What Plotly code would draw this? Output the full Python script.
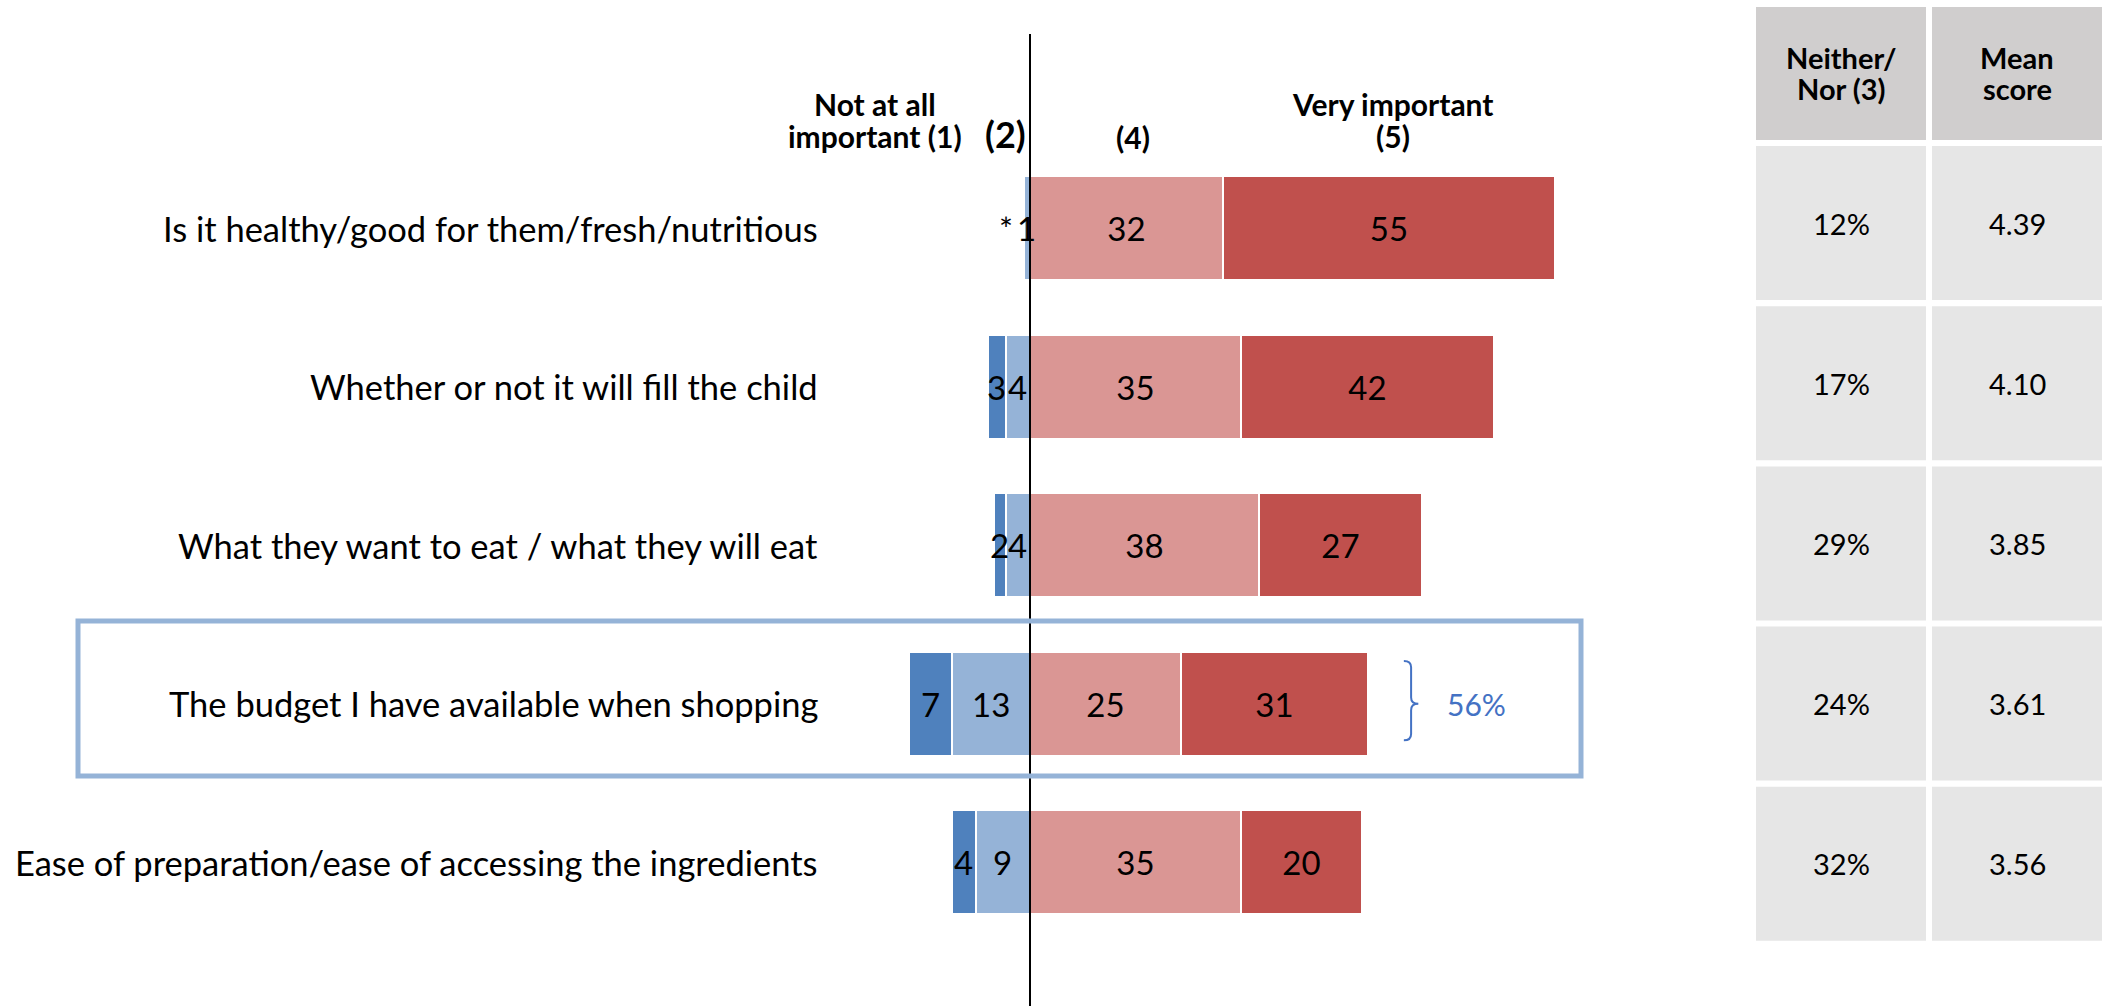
import plotly.graph_objects as go

# ---- data -------------------------------------------------------------
categories = [
    "Is it healthy/good for them/fresh/nutritious",
    "Whether or not it will fill the child",
    "What they want to eat / what they will eat",
    "The budget I have available when shopping",
    "Ease of preparation/ease of accessing the ingredients",
]
not_at_all = [0, 3, 2, 7, 4]          # Not at all important (1)
not_at_all_labels = ["*", "3", "2", "7", "4"]
somewhat_not = [1, 4, 4, 13, 9]       # (2)
somewhat = [32, 35, 38, 25, 35]       # (4)
very = [55, 42, 27, 31, 20]           # Very important (5)
neither_pct = [12, 17, 29, 24, 32]    # Neither/Nor (3)
mean_score = [4.39, 4.10, 3.85, 3.61, 3.56]
highlight_row = 3

# ---- style / geometry -------------------------------------------------
W, H = 2108, 1006
ZERO_PX, PX_PER_UNIT = 1030, 6.03
ROW0_PX, ROW_PITCH = 228, 158.6
FONT = "Lato, 'Noto Sans', sans-serif"
C_DARK_BLUE, C_LIGHT_BLUE = "#4F81BD", "#95B3D7"
C_LIGHT_RED, C_DARK_RED = "#DA9694", "#C0504D"
ACCENT = "#4472C4"
LABEL_SIZE = 33


def px(x):
    return x / W


def py(y):
    return 1 - y / H


rows = list(range(len(categories)))
bar_width = 104 / ROW_PITCH

fig = go.Figure()


def add_bar(values, color, text=None):
    fig.add_trace(go.Bar(
        y=rows, x=values, orientation="h", width=bar_width,
        marker=dict(color=color, line=dict(color="white", width=2)),
        text=text, textposition="inside" if text else "none",
        insidetextanchor="middle", textangle=0,
        textfont=dict(family=FONT, size=LABEL_SIZE, color="black"),
        hoverinfo="skip", showlegend=False,
    ))


# negative side stacks outward in trace order
add_bar([-v for v in somewhat_not], C_LIGHT_BLUE)
add_bar([-v for v in not_at_all], C_DARK_BLUE)
add_bar(somewhat, C_LIGHT_RED, [str(v) for v in somewhat])
add_bar(very, C_DARK_RED, [str(v) for v in very])

annotations = []
shapes = []


def text_at(xp, yp, text, size, bold=False, color="black"):
    """Place one line of text centred on a pixel position."""
    annotations.append(dict(
        x=px(xp), y=py(yp), xref="paper", yref="paper", xanchor="center", yanchor="middle",
        text=f"<b>{text}</b>" if bold else text, showarrow=False,
        font=dict(family=FONT, size=size, color=color)))


# labels for the narrow negative segments
for i in rows:
    annotations.append(dict(
        x=-somewhat_not[i] / 2, y=i, xref="x", yref="y", xanchor="center", yanchor="middle",
        text=str(somewhat_not[i]), showarrow=False,
        font=dict(family=FONT, size=LABEL_SIZE, color="black")))
    lbl = not_at_all_labels[i]
    annotations.append(dict(
        x=-(somewhat_not[i] + not_at_all[i] / 2), y=i, xref="x", yref="y",
        xanchor="center", yanchor="middle", text=lbl,
        showarrow=False, xshift=-18 if lbl == "*" else 0,
        font=dict(family=FONT, size=LABEL_SIZE, color="black")))

# category labels
for i, cat in enumerate(categories):
    annotations.append(dict(
        x=px(820), y=i, xref="paper", yref="y", xanchor="right", yanchor="middle", text=cat,
        showarrow=False, font=dict(family=FONT, size=34.5, color="black")))

# scale headers
HDR = 30
text_at(875, 104, "Not at all", HDR, bold=True)
text_at(875, 136, "important (1)", HDR, bold=True)
text_at(1005, 134, "(2)", 36, bold=True)
text_at(1133, 137, "(4)", HDR, bold=True)
text_at(1393, 104, "Very important", HDR, bold=True)
text_at(1393, 136, "(5)", HDR, bold=True)

# zero line
shapes.append(dict(type="line", xref="x", yref="paper", x0=0, x1=0, y0=0, y1=py(34),
                   line=dict(color="black", width=2), layer="above"))

# highlighted row frame
shapes.append(dict(type="rect", xref="paper", yref="paper",
                   x0=px(78), x1=px(1581), y0=py(776), y1=py(621),
                   line=dict(color="#95B3D7", width=5), fillcolor="rgba(0,0,0,0)"))

# bracket summing the top-two boxes on the highlighted row
top2 = somewhat[highlight_row] + very[highlight_row]
yc = highlight_row
bx0, bx1, bx2 = top2 + 6.0, top2 + 7.2, top2 + 8.4
yt, yb, r = yc - 0.27, yc + 0.23, 0.04
shapes.append(dict(
    type="path", xref="x", yref="y",
    path=(f"M {bx0},{yt} Q {bx1},{yt} {bx1},{yt + r} L {bx1},{yc - r} "
          f"Q {bx1},{yc} {bx2},{yc} Q {bx1},{yc} {bx1},{yc + r} "
          f"L {bx1},{yb - r} Q {bx1},{yb} {bx0},{yb}"),
    line=dict(color=ACCENT, width=2)))
annotations.append(dict(
    x=top2 + 12.9, y=yc, xref="x", yref="y", xanchor="left", yanchor="middle", text=f"{top2}%",
    showarrow=False, font=dict(family=FONT, size=30, color=ACCENT)))

# side table: Neither/Nor and mean score
col_x = [(1756, 1926), (1932, 2102)]
headers = [("Neither/", "Nor (3)"), ("Mean", "score")]
for (x0, x1), (l1, l2) in zip(col_x, headers):
    shapes.append(dict(type="rect", xref="paper", yref="paper", x0=px(x0), x1=px(x1),
                       y0=py(140), y1=py(7), fillcolor="#D0CECE", line=dict(width=0), layer="below"))
    text_at((x0 + x1) / 2, 58, l1, 29, bold=True)
    text_at((x0 + x1) / 2, 89, l2, 29, bold=True)
cell_top, cell_pitch, cell_h = 146, 160.2, 154
for i in rows:
    t = cell_top + i * cell_pitch
    vals = [f"{neither_pct[i]}%", f"{mean_score[i]:.2f}"]
    for (x0, x1), v in zip(col_x, vals):
        shapes.append(dict(type="rect", xref="paper", yref="paper", x0=px(x0), x1=px(x1),
                           y0=py(t + cell_h), y1=py(t), fillcolor="#E6E6E6",
                           line=dict(width=0), layer="below"))
        text_at((x0 + x1) / 2, t + cell_h / 2, v, 29)

fig.update_layout(
    width=W, height=H, margin=dict(l=0, r=0, t=0, b=0),
    paper_bgcolor="white", plot_bgcolor="white",
    barmode="relative", bargap=0,
    xaxis=dict(range=[-ZERO_PX / PX_PER_UNIT, (W - ZERO_PX) / PX_PER_UNIT], visible=False, fixedrange=True),
    yaxis=dict(range=[(H - ROW0_PX) / ROW_PITCH, -ROW0_PX / ROW_PITCH], visible=False, fixedrange=True),
    uniformtext=dict(mode="show", minsize=LABEL_SIZE),
    shapes=shapes, annotations=annotations,
)

fig.write_html("out.html")
